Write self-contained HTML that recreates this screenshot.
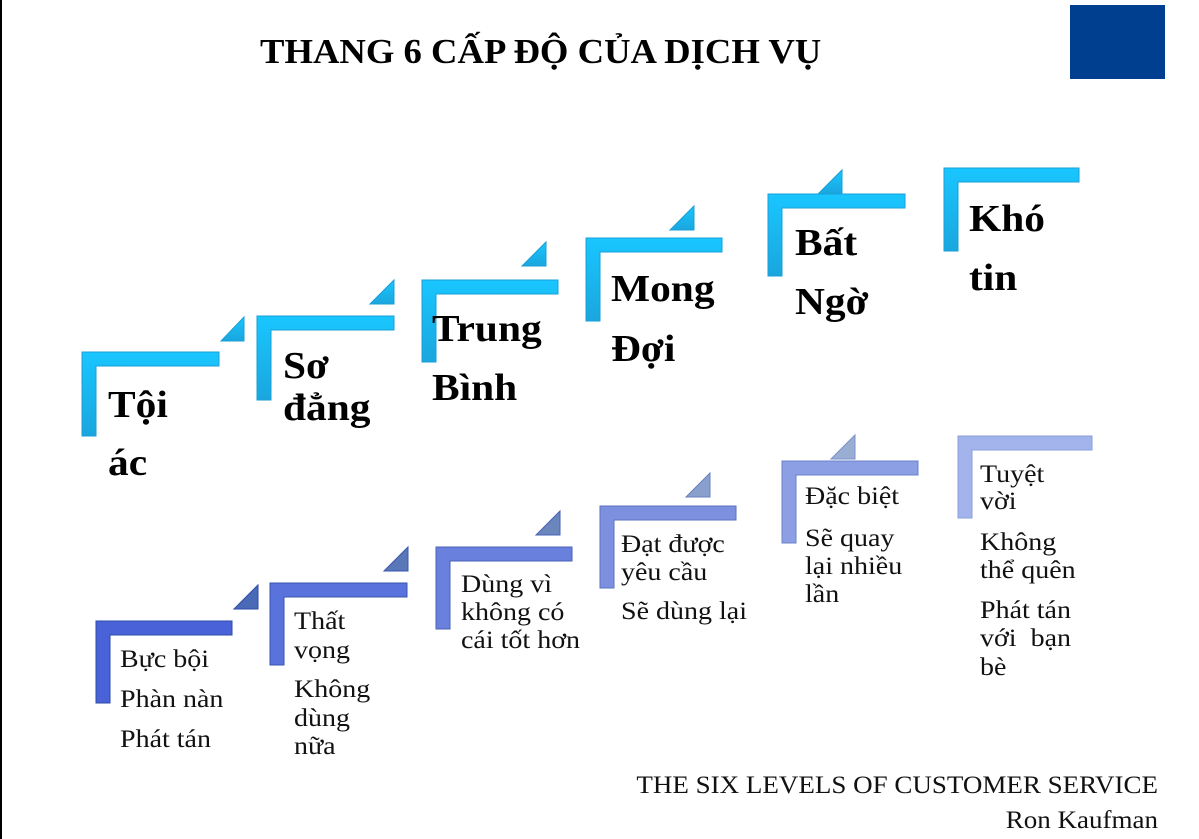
<!DOCTYPE html>
<html><head><meta charset="utf-8"><style>
html,body{margin:0;padding:0;background:#fff;}
body{width:1199px;height:839px;position:relative;overflow:hidden;font-family:"Liberation Serif",serif;}
.a{position:absolute;}
.t{position:absolute;white-space:nowrap;font-weight:bold;font-size:38px;line-height:40px;color:#000;transform:scaleX(1.09);transform-origin:0 0;}
.s{position:absolute;white-space:nowrap;font-size:25px;line-height:28px;color:#111;transform:scaleX(1.12);transform-origin:0 0;}
.f{position:absolute;white-space:nowrap;font-size:25px;line-height:30px;color:#111;transform:scaleX(1.08);transform-origin:100% 0;text-align:right;right:41px;}
</style></head><body>
<div class="a" style="left:0;top:0;width:2px;height:839px;background:#000"></div>
<div class="a" style="left:1070px;top:5px;width:95px;height:74px;background:#003f8f"></div>
<div class="t" style="left:260px;top:32px;font-size:35px;transform:scaleX(1.047)">THANG 6 CẤP ĐỘ CỦA DỊCH VỤ</div>
<svg class="a" style="left:0;top:0" width="1199" height="839">
<defs>
<linearGradient id="c" x1="0" y1="0" x2="0" y2="1"><stop offset="0" stop-color="#19c6ff"/><stop offset="1" stop-color="#1aa6de"/></linearGradient>
</defs>
<g fill="url(#c)" stroke="#1a9fd6" stroke-width="1">
<path d="M82 352H219V366H96V436H82Z"/><path d="M221 341H244V317Z"/>
<path d="M257 316H394V330H271V400H257Z"/><path d="M370 304H394V280Z"/>
<path d="M422 280H558V294H436V362H422Z"/><path d="M522 266H546V242Z"/>
<path d="M586 238H722V252H600V321H586Z"/><path d="M670 230H694V206Z"/>
<path d="M768 194H905V208H782V276H768Z"/><path d="M818 194H842V170Z"/>
<path d="M944 168H1079V182H958V251H944Z"/>
</g>
<g stroke-width="1">
<path fill="#4a62d8" stroke="#2e4aa8" d="M96 621H232V635H110V703H96Z"/><path fill="#4a6ab8" stroke="#2e4aa8" d="M234 609H258V585Z"/>
<path fill="#5a72db" stroke="#3a55b0" d="M270 583H407V597H284V665H270Z"/><path fill="#5a78b8" stroke="#3a55b0" d="M384 571H408V547Z"/>
<path fill="#6a80dd" stroke="#4a62b8" d="M436 547H572V561H450V629H436Z"/><path fill="#6a86bd" stroke="#4a62b8" d="M536 535H560V511Z"/>
<path fill="#7d90e0" stroke="#5a72c0" d="M600 506H736V520H614V588H600Z"/><path fill="#8aa0cc" stroke="#6a80c0" d="M686 497H710V473Z"/>
<path fill="#8d9fe4" stroke="#6a80c8" d="M782 461H918V475H796V543H782Z"/><path fill="#9aaed4" stroke="#7a90c8" d="M831 459H855V435Z"/>
<path fill="#a3b3ec" stroke="#8a9fd8" d="M958 436H1092V450H972V518H958Z"/>
</g>
</svg>
<div class="t" style="left:108px;top:385px">Tội</div>
<div class="t" style="left:108px;top:443px">ác</div>
<div class="t" style="left:283px;top:346px">Sơ</div>
<div class="t" style="left:283px;top:388px">đẳng</div>
<div class="t" style="left:432px;top:309px">Trung</div>
<div class="t" style="left:432px;top:368px">Bình</div>
<div class="t" style="left:611px;top:269px">Mong</div>
<div class="t" style="left:611px;top:329px">Đợi</div>
<div class="t" style="left:795px;top:223px">Bất</div>
<div class="t" style="left:795px;top:282px">Ngờ</div>
<div class="t" style="left:969px;top:199px">Khó</div>
<div class="t" style="left:969px;top:258px">tin</div>

<div class="s" style="left:120px;top:646px">Bực bội</div>
<div class="s" style="left:120px;top:686px">Phàn nàn</div>
<div class="s" style="left:120px;top:726px">Phát tán</div>

<div class="s" style="left:294px;top:608px">Thất</div>
<div class="s" style="left:294px;top:637px">vọng</div>
<div class="s" style="left:294px;top:676px">Không</div>
<div class="s" style="left:294px;top:705px">dùng</div>
<div class="s" style="left:294px;top:733px">nữa</div>

<div class="s" style="left:461px;top:571px">Dùng vì</div>
<div class="s" style="left:461px;top:599px">không có</div>
<div class="s" style="left:461px;top:627px">cái tốt hơn</div>

<div class="s" style="left:621px;top:531px">Đạt được</div>
<div class="s" style="left:621px;top:559px">yêu cầu</div>
<div class="s" style="left:621px;top:598px">Sẽ dùng lại</div>

<div class="s" style="left:805px;top:483px">Đặc biệt</div>
<div class="s" style="left:805px;top:525px">Sẽ quay</div>
<div class="s" style="left:805px;top:553px">lại nhiều</div>
<div class="s" style="left:805px;top:581px">lần</div>

<div class="s" style="left:980px;top:461px">Tuyệt</div>
<div class="s" style="left:980px;top:488px">vời</div>
<div class="s" style="left:980px;top:529px">Không</div>
<div class="s" style="left:980px;top:557px">thể quên</div>
<div class="s" style="left:980px;top:597px">Phát tán</div>
<div class="s" style="left:980px;top:625px">với&nbsp; bạn</div>
<div class="s" style="left:980px;top:654px">bè</div>

<div class="f" style="top:771px">THE SIX LEVELS OF CUSTOMER SERVICE</div>
<div class="f" style="top:806px">Ron Kaufman</div>
</body></html>
